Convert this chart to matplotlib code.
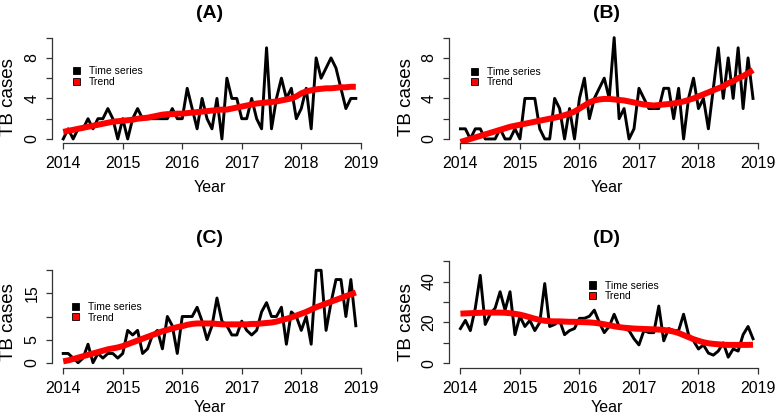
import numpy as np
import matplotlib.pyplot as plt
from matplotlib.patches import Patch

plt.rcParams['font.family'] = ['Liberation Sans', 'DejaVu Sans']

# monthly TB cases, Jan 2014 - Dec 2018
cases_a = [0, 1, 0, 1, 1, 2, 1, 2, 2, 3, 2, 0,
           2, 0, 2, 3, 2, 2, 2, 2, 2, 2, 3, 2,
           2, 5, 3, 1, 4, 2, 1, 4, 0, 6, 4, 4,
           2, 2, 4, 2, 1, 9, 1, 4, 6, 4, 5, 2,
           3, 5, 1, 8, 6, 7, 8, 7, 5, 3, 4, 4]
trend_a = [0.7, 0.8, 0.9, 1.0, 1.1, 1.2, 1.3, 1.4, 1.5, 1.6, 1.7, 1.75,
           1.8, 1.85, 1.9, 2.0, 2.05, 2.1, 2.2, 2.3, 2.4, 2.45, 2.45, 2.5,
           2.5, 2.55, 2.6, 2.65, 2.7, 2.75, 2.8, 2.85, 2.9, 2.9, 3.0, 3.1,
           3.2, 3.3, 3.4, 3.5, 3.55, 3.6, 3.65, 3.7, 3.8, 3.9, 4.0, 4.2,
           4.5, 4.7, 4.8, 4.9, 4.95, 5.0, 5.0, 5.05, 5.1, 5.1, 5.15, 5.15]

cases_b = [1, 1, 0, 1, 1, 0, 0, 0, 1, 0, 0, 1,
           0, 4, 4, 4, 1, 0, 0, 4, 3, 0, 3, 0,
           4, 6, 2, 4, 5, 6, 4, 10, 2, 3, 0, 1,
           5, 4, 3, 3, 3, 5, 5, 2, 5, 0, 4, 6,
           3, 4, 1, 5, 9, 4, 8, 4, 9, 3, 8, 4]
trend_b = [-0.3, -0.15, 0.0, 0.15, 0.3, 0.45, 0.6, 0.75, 0.9, 1.05, 1.2, 1.3,
           1.4, 1.5, 1.6, 1.7, 1.8, 1.9, 2.0, 2.1, 2.2, 2.35, 2.5, 2.7,
           3.0, 3.3, 3.6, 3.8, 3.9, 3.95, 3.95, 3.9, 3.85, 3.8, 3.7, 3.6,
           3.5, 3.4, 3.35, 3.3, 3.35, 3.4, 3.45, 3.5, 3.6, 3.7, 3.85, 4.0,
           4.2, 4.4, 4.6, 4.8, 5.0, 5.2, 5.5, 5.7, 6.0, 6.2, 6.5, 6.8]

cases_c = [2, 2, 1, 0, 1, 4, 0, 2, 1, 2, 2, 1,
           2, 7, 6, 7, 2, 3, 6, 7, 3, 10, 8, 2,
           10, 10, 10, 12, 9, 5, 8, 14, 9, 8, 6, 6,
           9, 7, 6, 7, 11, 13, 10, 10, 12, 4, 11, 10,
           7, 10, 4, 20, 20, 7, 13, 18, 18, 10, 18, 8]
trend_c = [0.3, 0.5, 0.8, 1.1, 1.4, 1.7, 2.0, 2.3, 2.6, 2.9, 3.1, 3.3,
           3.6, 4.0, 4.4, 4.8, 5.2, 5.6, 6.0, 6.4, 6.8, 7.1, 7.4, 7.7,
           7.9, 8.2, 8.4, 8.5, 8.5, 8.5, 8.5, 8.4, 8.3, 8.3, 8.3, 8.3,
           8.3, 8.3, 8.4, 8.4, 8.5, 8.6, 8.7, 8.9, 9.2, 9.5, 9.8, 10.2,
           10.6, 11.0, 11.5, 12.0, 12.4, 12.8, 13.2, 13.6, 14.0, 14.4, 14.8, 15.2]

cases_d = [17, 21, 16, 27, 43, 19, 24, 27, 35, 26, 35, 14,
           23, 18, 21, 16, 20, 39, 18, 19, 21, 14, 16, 17,
           22, 22, 23, 26, 20, 15, 18, 24, 18, 17, 16, 12,
           9, 16, 15, 15, 28, 11, 17, 16, 16, 24, 14, 11,
           7, 9, 5, 4, 6, 10, 3, 7, 6, 14, 18, 12]
trend_d = [24.3, 24.4, 24.5, 24.6, 24.7, 24.8, 24.8, 24.8, 24.8, 24.7, 24.5, 24.2,
           23.8, 23.2, 22.5, 21.8, 21.2, 20.8, 20.6, 20.5, 20.5, 20.4, 20.3, 20.3,
           20.2, 20.1, 20.0, 19.8, 19.5, 19.1, 18.6, 18.1, 17.7, 17.4, 17.2, 17.0,
           16.9, 16.8, 16.7, 16.6, 16.5, 16.3, 16.0, 15.5, 14.8, 13.8, 12.8, 11.8,
           11.0, 10.3, 9.8, 9.5, 9.3, 9.1, 9.0, 9.0, 9.0, 9.0, 9.0, 9.1]

titles = ['(A)', '(B)', '(C)', '(D)']
year_ticks = [2014, 2015, 2016, 2017, 2018, 2019]
y_ticks = [[0, 2, 4, 6, 8, 10], [0, 2, 4, 6, 8, 10],
           [0, 5, 10, 15, 20], [0, 10, 20, 30, 40, 50]]
y_labels = [['0', '', '4', '', '8', ''], ['0', '', '4', '', '8', ''],
            ['0', '5', '', '15', ''], ['0', '', '20', '', '40', '']]

months = 2014 + np.arange(60) / 12.0

W, H = 777, 417
fig = plt.figure(figsize=(W / 100, H / 100), dpi=100)

# panel boxes in pixels: left, right, top, bottom
boxes = [(51.5, 367.5, 33.5, 143.0), (448.7, 764.7, 33.5, 143.0),
         (51.5, 367.5, 258.2, 367.7), (448.7, 764.7, 258.2, 367.7)]
ylims = [(-0.4, 10.41), (-0.4, 10.41), (-1.08, 22.62), (-2.15, 51.4)]
leg_pos = [(0.067, 0.70), (0.07, 0.695), (0.064, 0.60), (0.444, 0.795)]
ylab_y = [0.415, 0.415, 0.42, 0.42]
xlab_y = [-0.335, -0.335, -0.295, -0.295]

series = [(cases_a, trend_a), (cases_b, trend_b), (cases_c, trend_c), (cases_d, trend_d)]

for k in range(4):
    l, r, t, b = boxes[k]
    ax = fig.add_axes([l / W, 1 - b / H, (r - l) / W, (b - t) / H])
    cases, trend = series[k]
    ax.plot(months, cases, color='black', lw=2.1)
    ax.plot(months, trend, color='#ff0000', lw=4.3, solid_capstyle='butt')
    ax.set_xlim(2013.803, 2019.113)
    ax.set_ylim(*ylims[k])
    ax.set_xticks(year_ticks)
    ax.set_yticks(y_ticks[k])
    ax.set_yticklabels(y_labels[k], rotation=90, va='center')
    for s in ['top', 'right']:
        ax.spines[s].set_visible(False)
    ax.spines['left'].set_bounds(y_ticks[k][0], y_ticks[k][-1])
    ax.spines['bottom'].set_bounds(2014, 2019)
    for s in ['left', 'bottom']:
        ax.spines[s].set_color('#333333')
        ax.spines[s].set_linewidth(0.9)
    ax.tick_params(axis='both', length=4.3, width=0.9, color='#333333', labelsize=11.5)
    ax.tick_params(axis='x', pad=5)
    ax.tick_params(axis='y', pad=4.5)
    ax.set_title(titles[k], fontsize=14, fontweight='bold', pad=11)
    ax.set_xlabel('Year', fontsize=11.5)
    ax.set_ylabel('TB cases', fontsize=13.5)
    ax.xaxis.set_label_coords(0.5, xlab_y[k])
    ax.yaxis.set_label_coords(-0.108, ylab_y[k])
    handles = [Patch(facecolor='black', edgecolor='black', lw=0.6),
               Patch(facecolor='#ff0000', edgecolor='black', lw=0.6)]
    ax.legend(handles, ['Time series', 'Trend'], loc='upper left',
              bbox_to_anchor=leg_pos[k], frameon=False, fontsize=7.5,
              handlelength=0.67, handleheight=0.67, handletextpad=0.87,
              labelspacing=0.05, borderpad=0, borderaxespad=0)

fig.savefig('out.png', dpi=100)
